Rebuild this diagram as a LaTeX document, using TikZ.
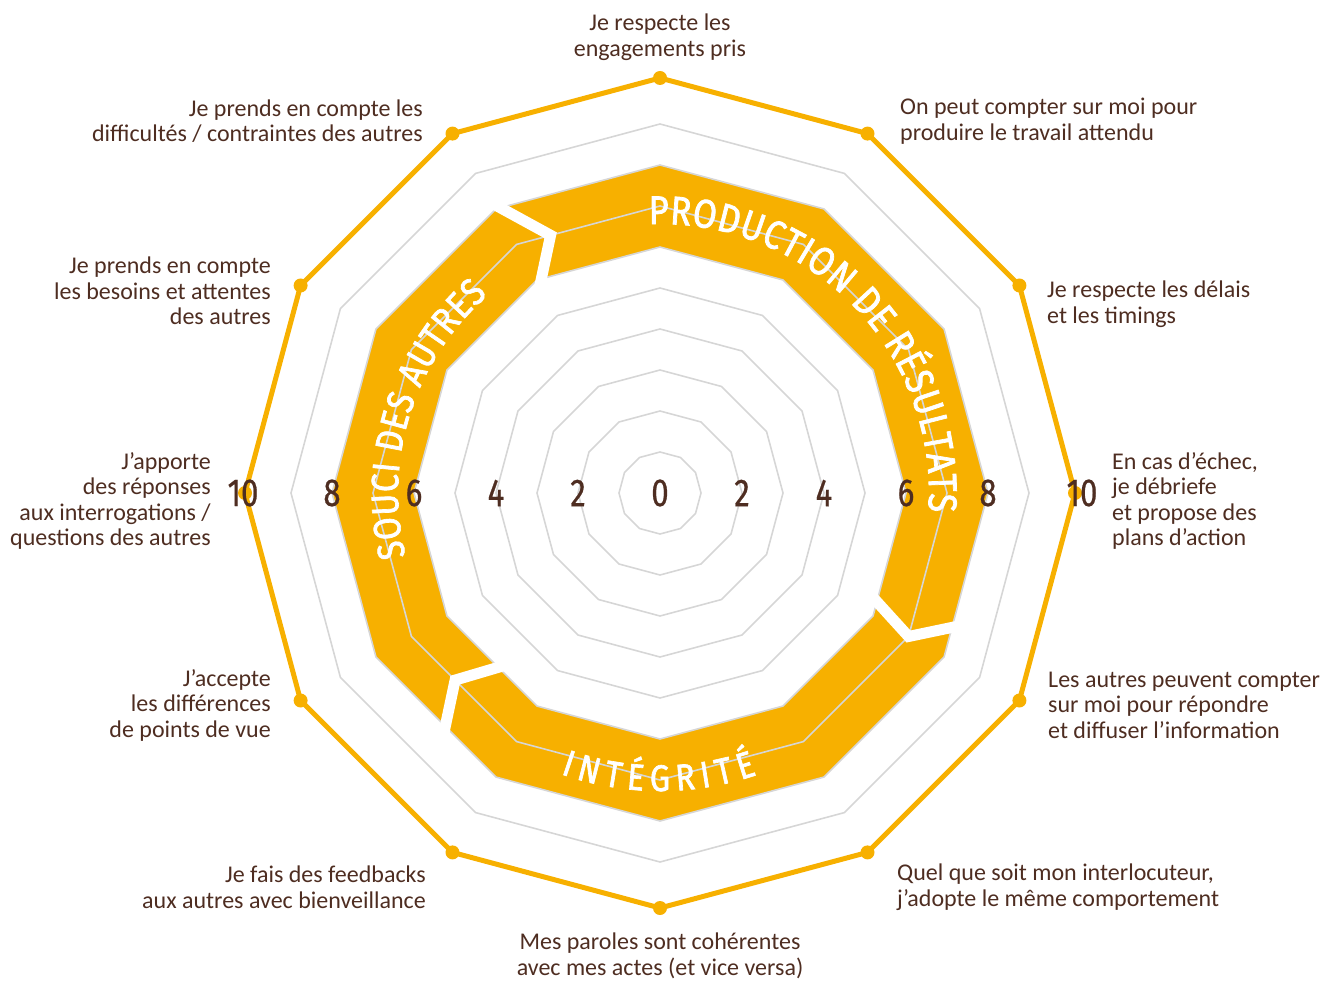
\documentclass[tikz,border=0pt]{standalone}
\usepackage{fontspec}
\setmainfont{Carlito}
\newfontfamily\bandfont[FakeStretch=0.86, FakeBold=1.8]{Fira Sans}
\newfontfamily\numfont[FakeStretch=0.8, FakeBold=0.6]{Fira Sans}
\usetikzlibrary{decorations.text}
\definecolor{orng}{RGB}{247,176,0}
\definecolor{gridc}{RGB}{214,214,214}
\definecolor{brn}{RGB}{78,45,33}
\begin{document}
\begin{tikzpicture}[x=1pt,y=1pt,
  lbl/.style={font=\fontsize{24}{25.5}\selectfont, text=brn, inner sep=0pt},
  lblr/.style={lbl, align=right, anchor=east},
  lbll/.style={lbl, align=left, anchor=west},
  lblc/.style={lbl, align=center, anchor=center},
  num/.style={font=\numfont\fontsize{39}{39}\selectfont, text=brn, inner sep=0pt},
  gridline/.style={draw=gridc, line width=1.6},
  gapline/.style={draw=white, line width=11, line join=miter, miter limit=10},
  outerline/.style={draw=orng, line width=5, line join=round},
]
\useasboundingbox (0,0) rectangle (1325,-981);
\begin{scope}[shift={(660,-493)}]
  % band
  \fill[orng, even odd rule]
    (90:328) \foreach \k in {1,...,11}{ -- (90-\k*30:328)} -- cycle
    (90:246) \foreach \k in {1,...,11}{ -- (90-\k*30:246)} -- cycle;
  % grid
  \foreach \l [evaluate=\l as \r using \l*41] in {1,...,9}
    \draw[gridline] (90:\r) \foreach \k in {1,...,11}{ -- (90-\k*30:\r)} -- cycle;
  % gaps between the three segments
  \draw[gapline] (120:334) -- (113:280) -- (120:240);
  \draw[gapline] (-24:327) -- (-30:287) -- (-26:236);
  \draw[gapline] (-132:323) -- (-137.6:277.5) -- (-132:232);
  % band texts
  \path[decorate, decoration={text along path, text align=fit to path,
      text={|\bandfont\fontsize{40}{40}\selectfont\color{white}|PRODUCTION DE RÉSULTATS}}]
    (92.4:269) arc[start angle=92.4, end angle=-4, radius=269];
  \path[decorate, decoration={text along path, text align=fit to path,
      text={|\bandfont\fontsize{37}{37}\selectfont\color{white}|INTÉGRITÉ}}]
    (-109.5:298) arc[start angle=-109.5, end angle=-71, radius=298];
  \path[decorate, decoration={text along path, text align=fit to path,
      text={|\bandfont\fontsize{38}{38}\selectfont\color{white}|SOUCI DES AUTRES}}]
    (-166:262) arc[start angle=-166, end angle=-229, radius=262];
  % outer polygon
  \draw[outerline] (90:415) \foreach \k in {1,...,11}{ -- (90-\k*30:415)} -- cycle;
  \foreach \k in {0,...,11} \fill[orng] (90-\k*30:415) circle (7);
  % scale numbers
  \node[num] (n0) at (0,0) {0};
  \node[num] (n2r) at (82,0) {2};
  \node[num] (n4r) at (164,0) {4};
  \node[num] (n6r) at (246,0) {6};
  \node[num] (n8r) at (328,0) {8};
  \node[num] (n10r) at (422,0) {10};
  \node[num] (n2l) at (-82,0) {2};
  \node[num] (n4l) at (-164,0) {4};
  \node[num] (n6l) at (-246,0) {6};
  \node[num] (n8l) at (-328,0) {8};
  \node[num] (n10l) at (-417,0) {10};
\end{scope}
% axis labels
\node[lblc] (a0) at (660,-37) {Je respecte les\\engagements pris};
\node[lbll] (a1) at (900,-121) {On peut compter sur moi pour\\produire le travail attendu};
\node[lbll] (a2) at (1047,-304) {Je respecte les délais\\et les timings};
\node[lbll] (a3) at (1112,-501) {En cas d’échec,\\je débriefe\\et propose des\\plans d’action};
\node[lbll] (a4) at (1048,-705) {Les autres peuvent compter\\sur moi pour répondre\\et diffuser l’information};
\node[lbll] (a5) at (897,-887) {Quel que soit mon interlocuteur,\\j’adopte le même comportement};
\node[lblc] (a6) at (660,-956) {Mes paroles sont cohérentes\\avec mes actes (et vice versa)};
\node[lblr] (a7) at (426,-887) {Je fais des feedbacks\\aux autres avec bienveillance};
\node[lblr] (a8) at (271,-705) {J’accepte\\les différences\\de points de vue};
\node[lblr] (a9) at (211,-501) {J’apporte\\des réponses\\aux interrogations /\\questions des autres};
\node[lblr] (a10) at (271,-291) {Je prends en compte\\les besoins et attentes\\des autres};
\node[lblr] (a11) at (423,-121) {Je prends en compte les\\difficultés / contraintes des autres};
\end{tikzpicture}
\end{document}
